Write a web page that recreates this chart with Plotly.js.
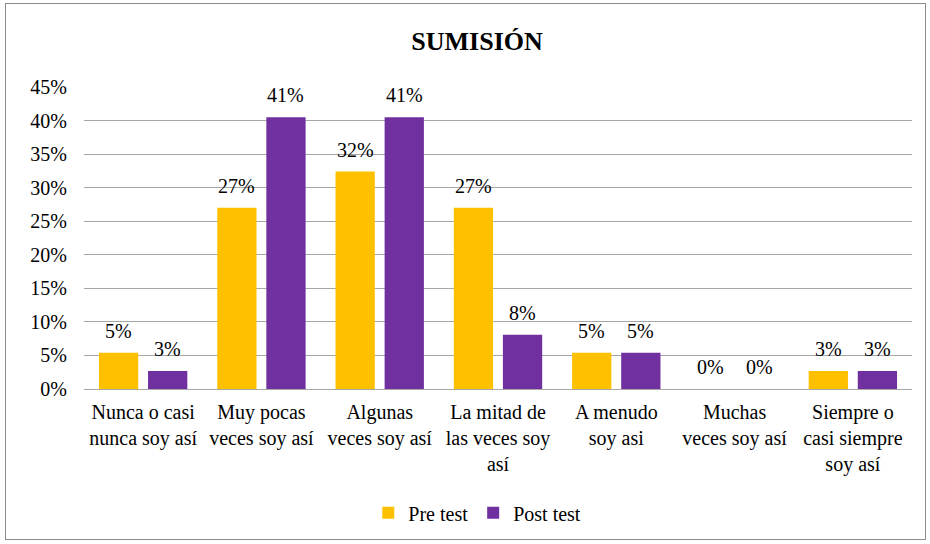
<!DOCTYPE html>
<html>
<head>
<meta charset="utf-8">
<script src="https://cdn.plot.ly/plotly-3.0.1.min.js"></script>
<style>
html,body{margin:0;padding:0;background:#fff;}
#wrap{position:relative;width:930px;height:544px;}
#chart{position:absolute;left:0;top:0;width:930px;height:544px;}
#frame{position:absolute;left:5px;top:3px;width:921px;height:537px;border:1px solid #8c8c8c;box-sizing:border-box;pointer-events:none;}
</style>
</head>
<body>
<div id="wrap"><div id="chart"></div><div id="frame"></div></div>
<script>
const categories = [
  "Nunca o casi<br>nunca soy así",
  "Muy pocas<br>veces soy así",
  "Algunas<br>veces soy así",
  "La mitad de<br>las veces soy<br>así",
  "A menudo<br>soy asi",
  "Muchas<br>veces soy así",
  "Siempre o<br>casi siempre<br>soy así"
];
const preTest  = [0.054, 0.270, 0.324, 0.270, 0.054, 0.000, 0.027];
const postTest = [0.027, 0.405, 0.405, 0.081, 0.054, 0.000, 0.027];
const seriesNames = ["Pre test", "Post test"];
const seriesColors = ["#FFC000", "#7030A0"];

const FAM = "Liberation Serif, Times New Roman, serif";
const BARGAP = 0.17, GROUPGAP = 0.2;
const slot = (1 - BARGAP) / 2;

const traces = [preTest, postTest].map((vals, k) => ({
  type: "bar", name: seriesNames[k], x: categories, y: vals,
  marker: {color: seriesColors[k]}, hoverinfo: "none"
}));

// value labels placed via annotations on the library's scales
const annotations = [];
[preTest, postTest].forEach((vals, k) => {
  vals.forEach((v, i) => {
    annotations.push({
      x: i + (k === 0 ? -slot / 2 : slot / 2), y: v, xref: "x", yref: "y",
      text: Math.round(v * 100) + "%", showarrow: false,
      yanchor: "bottom", yshift: 9,
      font: {family: FAM, size: 20, color: "#000"}
    });
  });
});

const layout = {
  width: 930, height: 544,
  margin: {l: 84, r: 18, t: 87, b: 155},
  paper_bgcolor: "#fff", plot_bgcolor: "#fff",
  font: {family: FAM, size: 20, color: "#000"},
  title: {text: "<b>SUMISIÓN</b>", font: {family: FAM, size: 26, color: "#000"}, x: 0.513, xanchor: "center", y: 0.925, yanchor: "middle"},
  barmode: "group", bargap: BARGAP, bargroupgap: GROUPGAP,
  showlegend: true,
  legend: {orientation: "h", x: 0.475, xanchor: "center", y: -0.41, yanchor: "middle", font: {family: FAM, size: 20}, itemwidth: 30, traceorder: "normal"},
  annotations: annotations,
  xaxis: {tickfont: {family: FAM, size: 20}, showline: true, linecolor: "#a6a6a6", ticks: "", ticklabelstandoff: 5, fixedrange: true},
  yaxis: {range: [0, 0.45], dtick: 0.05, tickformat: ".0%", tickfont: {family: FAM, size: 20},
          showgrid: true, gridcolor: "#a6a6a6", zeroline: true, zerolinecolor: "#a6a6a6", ticks: "", ticklabelstandoff: 16, fixedrange: true}
};

Plotly.newPlot("chart", traces, layout, {displayModeBar: false, staticPlot: true});
</script>
</body>
</html>
